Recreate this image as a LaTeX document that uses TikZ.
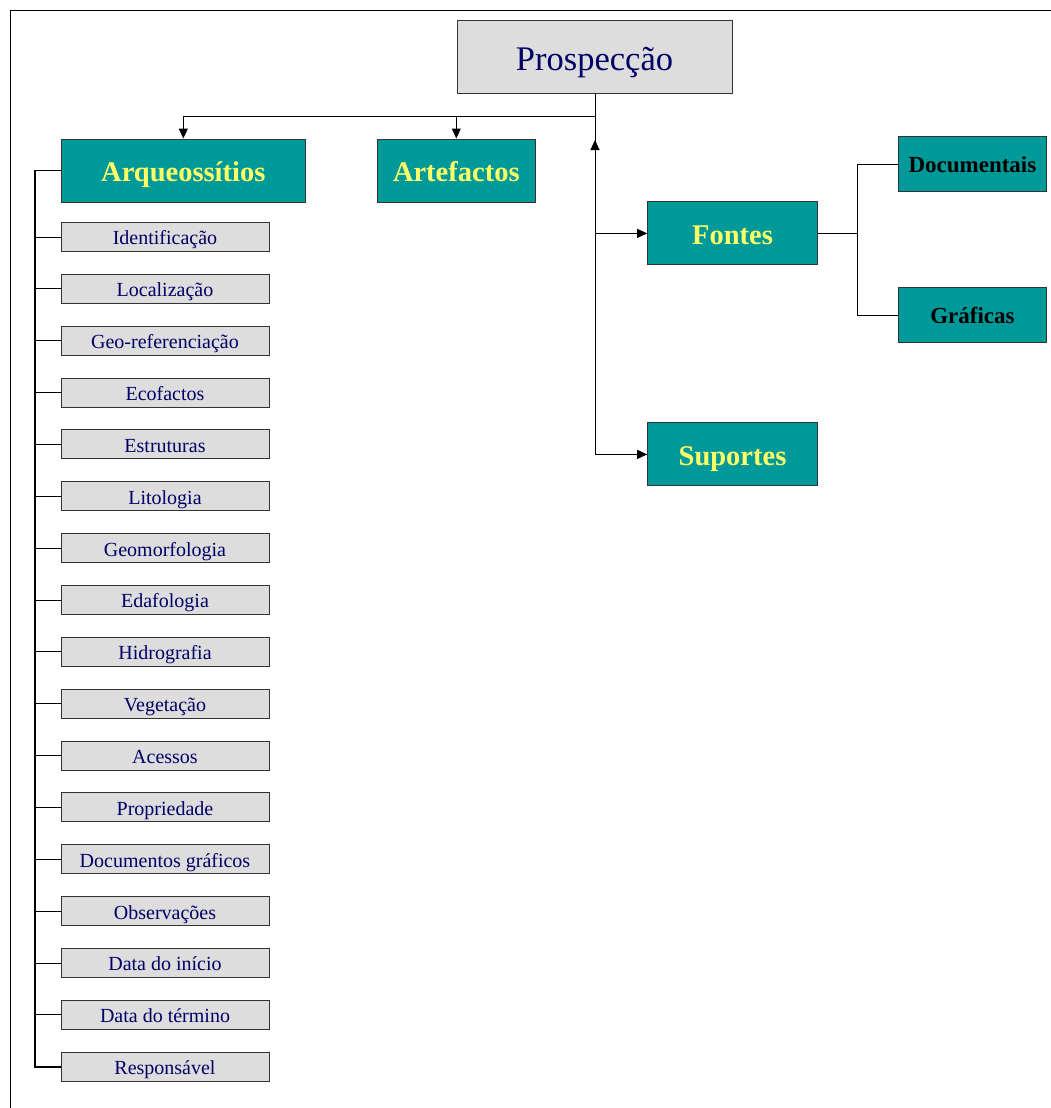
\documentclass[tikz,border=0pt]{standalone}
\usepackage{fontspec}
\setmainfont{Liberation Serif}
\usetikzlibrary{arrows.meta}
\definecolor{teal1}{HTML}{009999}
\definecolor{gray1}{HTML}{DDDDDD}
\definecolor{navy1}{HTML}{000066}
\definecolor{yell1}{HTML}{FFFF66}
\definecolor{edge1}{HTML}{333333}
\begin{document}
\begin{tikzpicture}[x=1pt,y=-1pt,
  base/.style={draw=edge1,line width=1pt,inner sep=0pt,align=center,text depth=0pt},
  topbox/.style={base,fill=gray1,text=navy1,minimum width=275pt,minimum height=72pt,font=\fontsize{34.5}{40}\selectfont,text height=26.6pt},
  mainbox/.style={base,fill=teal1,text=yell1,minimum height=63pt,font=\fontsize{28.5}{33}\selectfont\bfseries,text height=22.2pt},
  subbox/.style={base,fill=teal1,text=black,minimum width=148.7pt,font=\fontsize{23}{27}\selectfont\bfseries,text height=17.5pt},
  itembox/.style={base,fill=gray1,text=navy1,minimum width=208pt,minimum height=29pt,font=\fontsize{20}{24}\selectfont,text height=15.8pt},
  conn/.style={line width=1pt,black},
  arr/.style={conn,-{Triangle[length=10pt,width=9pt]}}]
\useasboundingbox (0,0) rectangle (1051,1108);
% frame
\draw[line width=1pt] (10,1108) -- (10,11) -- (1051,11);
% nodes
\node[topbox] (pro) at (594.5,57) {Prospecção};
\node[mainbox,minimum width=244.6pt] (arq) at (183.3,170.5) {Arqueossítios};
\node[mainbox,minimum width=158.5pt] (art) at (456.3,170.5) {Artefactos};
\node[mainbox,minimum width=169.6pt] (fon) at (732.5,233.4) {Fontes};
\node[mainbox,minimum width=169.6pt] (sup) at (732.5,454.4) {Suportes};
\node[subbox,minimum height=55pt] (doc) at (972.4,164.2) {Documentais};
\node[subbox,minimum height=54.3pt] (gra) at (972.4,315) {Gráficas};
\foreach \t [count=\i] in {Identificação,Localização,Geo-referenciação,Ecofactos,Estruturas,Litologia,Geomorfologia,Edafologia,Hidrografia,Vegetação,Acessos,Propriedade,Documentos gráficos,Observações,Data do início,Data do término,Responsável}
  \node[itembox] (s\i) at (165,{237+51.86*(\i-1)}) {\t};
% connectors from top
\coordinate (j) at (595,116);
\draw[conn] (pro.south -| j) -- (j);
\draw[arr] (j) -| (arq.north);
\draw[arr] (j) -| (art.north);
\coordinate (up) at (595,140);
\draw[conn] (j) |- (sup.west);
\draw[arr] (fon.west -| j) -- (up);
\draw[arr] (fon.west -| j) -- (fon.west);
\draw[arr] (sup.west -| j) -- (sup.west);
% Fontes tree
\coordinate (fb) at (857.7,233.4);
\draw[conn] (fon.east) -- (fb);
\draw[conn] (doc.west) -| (fb) |- (gra.west);
% left list
\coordinate (spine) at (35,170.5);
\draw[line width=1.5pt] (arq.west) -- (spine) |- (s17.west);
\foreach \i in {1,...,16}
  \draw[conn] (s\i.west) -- (s\i.west -| spine);
\end{tikzpicture}
\end{document}
